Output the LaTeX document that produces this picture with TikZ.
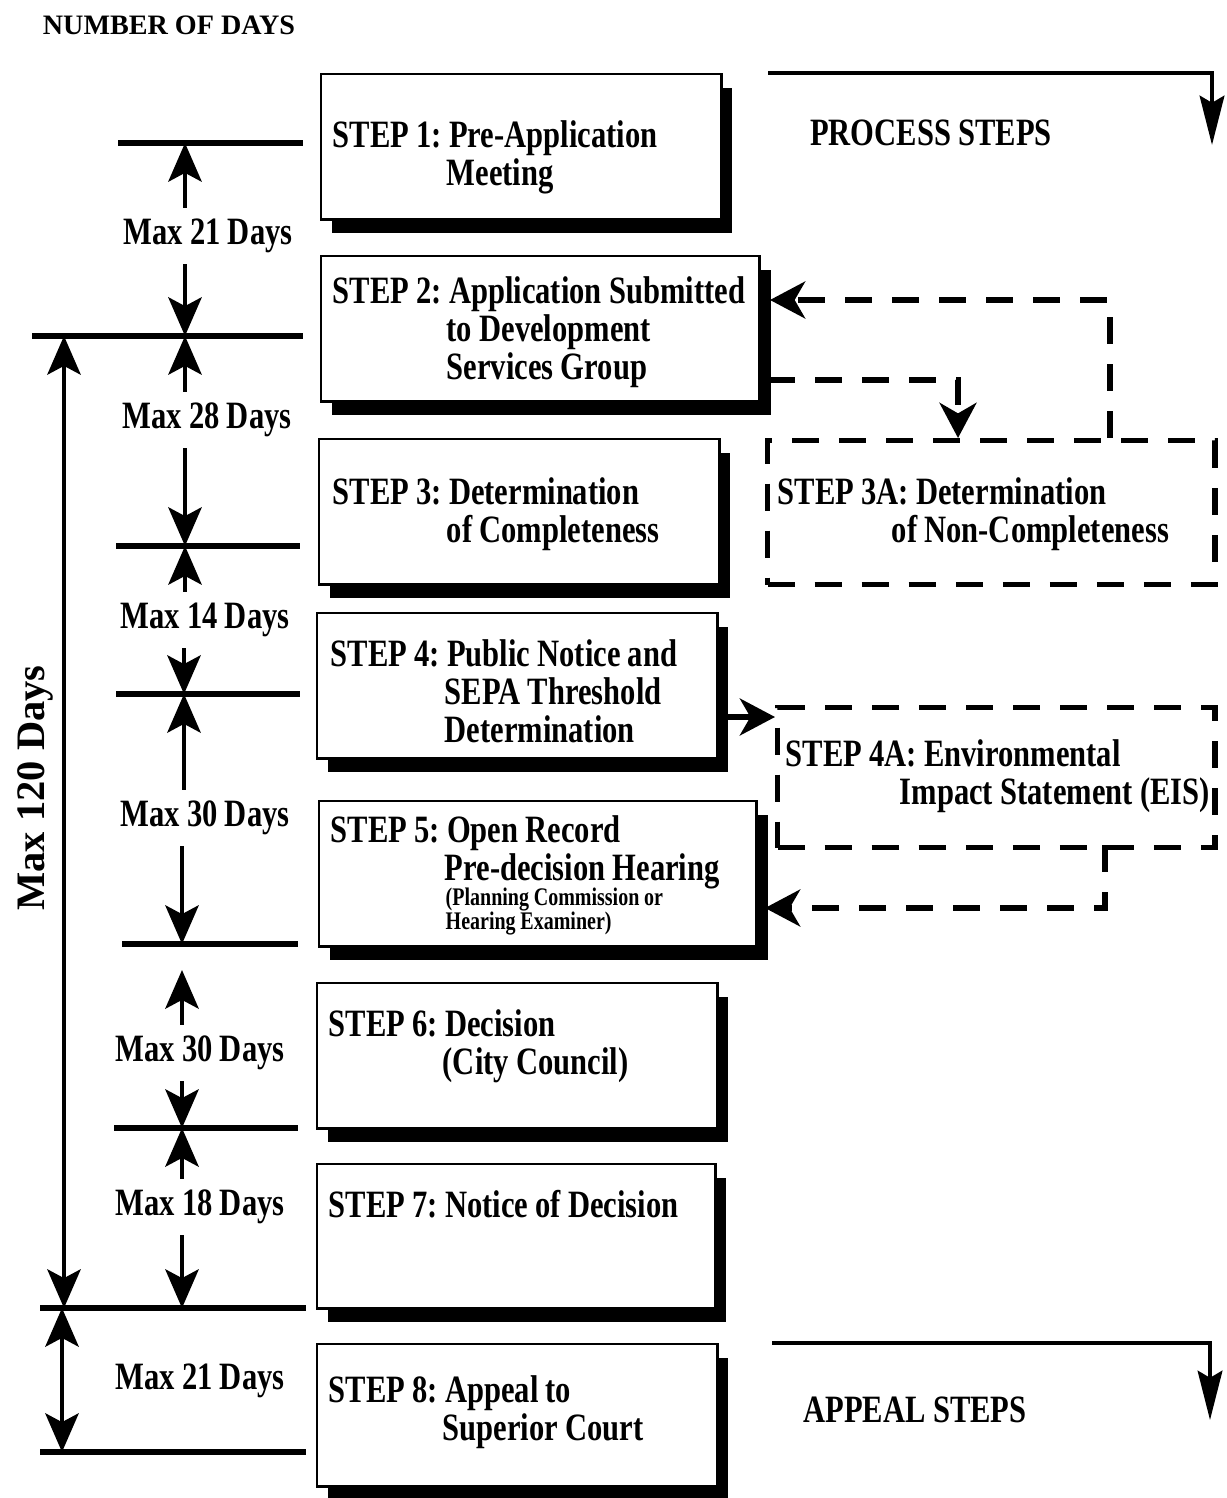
\documentclass[tikz,border=0pt]{standalone}
\usepackage{fontspec}
\setmainfont[FakeStretch=0.79, WordSpace=0.95]{Liberation Serif}
\newfontfamily\widefont{Liberation Serif}
\usetikzlibrary{arrows.meta,shadows}
\frenchspacing
\newcommand{\stepind}{\hspace*{1.14cm}}
\tikzset{
  stepbox/.style={draw, line width=0.7pt, fill=white, anchor=north west, inner sep=0pt,
    drop shadow={shadow xshift=0.11cm, shadow yshift=-0.14cm, opacity=1, fill=black}},
  altbox/.style={draw, line width=1.5pt, dash pattern=on 0.27cm off 0.2cm, anchor=north west, inner sep=0pt},
  steptext/.style={anchor=north west, inner sep=0pt, align=left, font=\bfseries\fontsize{11}{10.8}\selectfont},
  notetext/.style={anchor=north west, inner sep=0pt, align=left, font=\bfseries\fontsize{7.2}{6.8}\selectfont},
  dayslabel/.style={inner sep=3pt, font=\bfseries\fontsize{11}{13}\selectfont},
  tick/.style={line width=1.6pt},
  dimarrow/.style={line width=1.1pt, -{Stealth[length=11pt, width=9.5pt, inset=2.5pt]}},
  dimboth/.style={line width=1.1pt, {Stealth[length=11pt, width=9.5pt, inset=2.5pt]}-{Stealth[length=11pt, width=9.5pt, inset=2.5pt]}},
  flowarrow/.style={line width=1.2pt, -{Stealth[length=14pt, width=7pt, inset=2pt]}},
  dasharrow/.style={line width=1.5pt, dash pattern=on 0.27cm off 0.2cm, -{Stealth[length=10pt, width=10.5pt, inset=3pt]}}
}
\begin{document}
\begin{tikzpicture}[x=0.01cm, y=-0.01cm]
	\useasboundingbox (0,0) rectangle (1226,1498);
	% number of days column
	\node[font=\widefont\bfseries\fontsize{8}{9}\selectfont] (hdr) at (169,25) {NUMBER OF DAYS};
	\draw[tick] (118,143) -- (303,143);
	\draw[tick] (32,336) -- (303,336);
	\draw[tick] (116,546) -- (300,546);
	\draw[tick] (116,694) -- (300,694);
	\draw[tick] (122,944) -- (298,944);
	\draw[tick] (114,1128) -- (298,1128);
	\draw[tick] (40,1308) -- (306,1308);
	\draw[tick] (40,1452) -- (306,1452);
	\coordinate (k1) at (185,143);
	\coordinate (k2) at (185,336);
	\coordinate (k3) at (185,546);
	\coordinate (k4) at (184,694);
	\coordinate (k5) at (182,944);
	\coordinate (k5a) at (182,970);
	\coordinate (k6) at (182,1128);
	\coordinate (k7) at (182,1308);
	\node[dayslabel] (m1) at (208,236) {Max 21 Days};
	\node[dayslabel] (m2) at (207,420) {Max 28 Days};
	\node[dayslabel] (m3) at (205,620) {Max 14 Days};
	\node[dayslabel] (m4) at (205,818) {Max 30 Days};
	\node[dayslabel] (m5) at (200,1053) {Max 30 Days};
	\node[dayslabel] (m6) at (200,1207) {Max 18 Days};
	\node[dayslabel] (m7) at (200,1381) {Max 21 Days};
	\draw[dimarrow] (m1.north -| k1) -- (k1);
	\draw[dimarrow] (m1.south -| k2) -- (k2);
	\draw[dimarrow] (m2.north -| k2) -- (k2);
	\draw[dimarrow] (m2.south -| k3) -- (k3);
	\draw[dimarrow] (m3.north -| k3) -- (k3);
	\draw[dimarrow] (m3.south -| k4) -- (k4);
	\draw[dimarrow] (m4.north -| k4) -- (k4);
	\draw[dimarrow] (m4.south -| k5) -- (k5);
	\draw[dimarrow] (m5.north -| k5a) -- (k5a);
	\draw[dimarrow] (m5.south -| k6) -- (k6);
	\draw[dimarrow] (m6.north -| k6) -- (k6);
	\draw[dimarrow] (m6.south -| k7) -- (k7);
	% total span
	\coordinate (tt) at (64,336);
	\coordinate (tb) at (64,1308);
	\coordinate (at) at (62,1308);
	\coordinate (ab) at (62,1452);
	\draw[dimboth] (tt) -- (tb);
	\draw[dimboth] (at) -- (ab);
	\node[rotate=90, font=\widefont\bfseries\fontsize{11.5}{13}\selectfont] (m8) at (35,788) {Max 120 Days};
	% process steps
	\node[stepbox, minimum width=4cm, minimum height=1.45cm] (s1) at (320,73) {};
	\node[stepbox, minimum width=4.38cm, minimum height=1.45cm] (s2) at (320,255) {};
	\node[stepbox, minimum width=4cm, minimum height=1.45cm] (s3) at (318,438) {};
	\node[stepbox, minimum width=4cm, minimum height=1.45cm] (s4) at (316,612) {};
	\node[stepbox, minimum width=4.37cm, minimum height=1.45cm] (s5) at (318,800) {};
	\node[stepbox, minimum width=4cm, minimum height=1.45cm] (s6) at (316,982) {};
	\node[stepbox, minimum width=3.98cm, minimum height=1.44cm] (s7) at (316,1163) {};
	\node[stepbox, minimum width=4cm, minimum height=1.42cm] (s8) at (316,1343) {};
	\node[steptext] (t1) at (332,120) {STEP 1: Pre-Application\\\stepind Meeting};
	\node[steptext] (t2) at (332,276) {STEP 2: Application Submitted\\\stepind to Development\\\stepind Services Group};
	\node[steptext] (t3) at (332,477) {STEP 3: Determination\\\stepind of Completeness};
	\node[steptext] (t4) at (330,639) {STEP 4: Public Notice and\\\stepind SEPA Threshold\\\stepind Determination};
	\node[steptext] (t5) at (330,815) {STEP 5: Open Record\\\stepind Pre-decision Hearing};
	\node[notetext] (t5n) at (445,887) {(Planning Commission or\\Hearing Examiner)};
	\node[steptext] (t6) at (328,1009) {STEP 6: Decision\\\stepind (City Council)};
	\node[steptext] (t7) at (328,1190) {STEP 7: Notice of Decision};
	\node[steptext] (t8) at (328,1375) {STEP 8: Appeal to\\\stepind Superior Court};
	% side steps
	\node[altbox, minimum width=4.47cm, minimum height=1.44cm] (s3a) at (765,438) {};
	\node[altbox, minimum width=4.37cm, minimum height=1.4cm] (s4a) at (775,705) {};
	\node[steptext] (t3a) at (777,477) {STEP 3A: Determination\\\stepind of Non-Completeness};
	\node[steptext] (t4a) at (785,739) {STEP 4A: Environmental\\\stepind Impact Statement (EIS)};
	\coordinate (a2out) at (768,380);
	\coordinate (a3in) at (958,438);
	\coordinate (a3out) at (1110,438);
	\coordinate (a2in) at (770,300);
	\draw[dasharrow] (a2out) -| (a3in);
	\draw[dasharrow] (a3out) |- (a2in);
	\coordinate (a4out) at (727,717);
	\coordinate (a4in) at (775,717);
	\coordinate (a4back) at (1105,845);
	\coordinate (a5in) at (765,908);
	\draw[dasharrow] (a4out) -- (a4in);
	\draw[dasharrow] (a4back) |- (a5in);
	% headings on the right
	\node[dayslabel] (proc) at (931,133) {PROCESS STEPS};
	\node[dayslabel] (appeal) at (915,1410) {APPEAL STEPS};
	\coordinate (p0) at (768,73);
	\coordinate (p1) at (1212,145);
	\coordinate (q0) at (772,1343);
	\coordinate (q1) at (1210,1420);
	\draw[flowarrow] (p0) -| (p1);
	\draw[flowarrow] (q0) -| (q1);
\end{tikzpicture}
\end{document}
